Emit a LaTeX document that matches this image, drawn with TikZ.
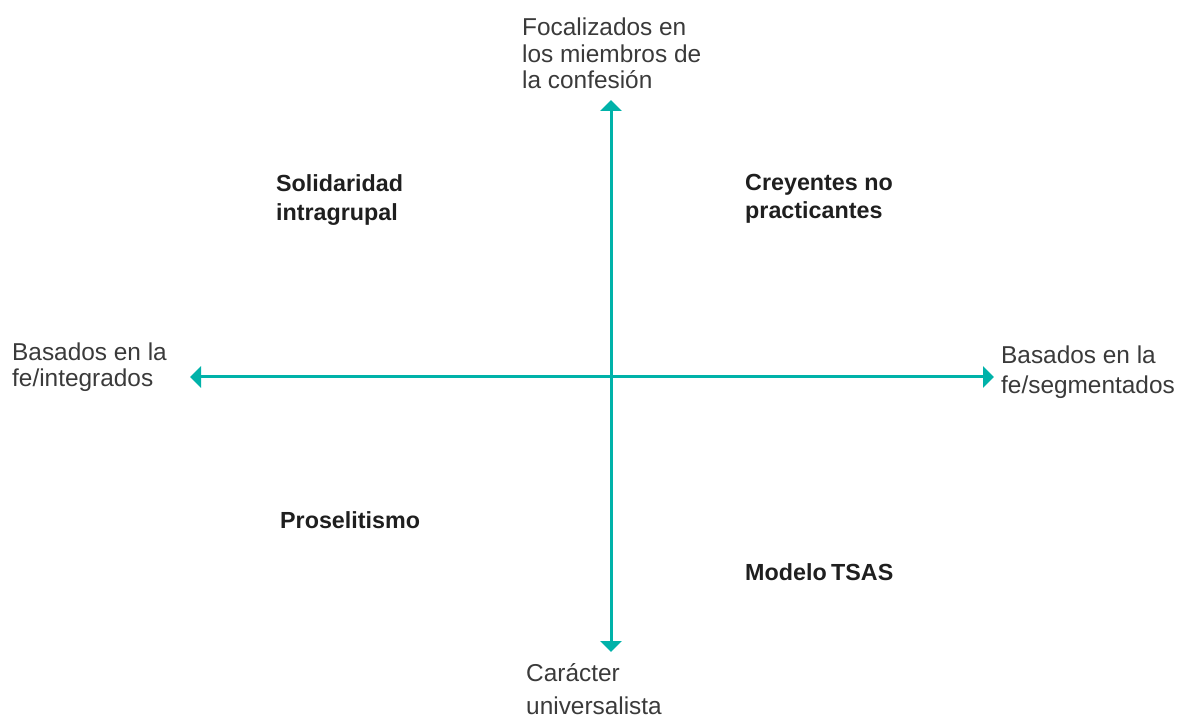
\documentclass[tikz,border=0pt]{standalone}
\usepackage{fontspec}
\setmainfont{Liberation Sans}
\usetikzlibrary{arrows.meta}
\definecolor{teal}{HTML}{00B2A9}
\definecolor{txt}{HTML}{3A3A3A}
\tikzset{
  tip/.tip={Triangle[width=21pt,length=11pt]},
  axis/.style={draw=teal, line width=3pt, tip-tip},
  lbl/.style={text=txt, align=left, inner sep=0pt, anchor=north west},
  quad/.style={text=black!88, align=left, inner sep=0pt, anchor=north west}
}
\newcommand{\lblfont}[1]{\fontsize{24.4}{#1}\selectfont}
\newcommand{\quadfont}[1]{\fontsize{23.3}{#1}\selectfont\bfseries}
\begin{document}
\begin{tikzpicture}[x=1pt,y=-1pt]
\useasboundingbox (0,0) rectangle (1179,719);
\coordinate (L) at (190,377);
\coordinate (R) at (994,377);
\coordinate (T) at (611,100);
\coordinate (B) at (611,652);
\draw[axis] (L) -- (R);
\draw[axis] (T) -- (B);
\node[lbl, font=\lblfont{26.5}] (top) at (522,18) {Focalizados en\\los miembros de\\la confesión};
\node[lbl, font=\lblfont{25.5}] (left) at (12,343) {Basados en la\\fe/integrados};
\node[lbl, font=\lblfont{30}] (right) at (1001,346) {Basados en la\\fe/segmentados};
\node[lbl, font=\lblfont{33}] (bot) at (526,663) {Carácter\\universalista};
\node[quad, font=\quadfont{29.5}] (q1) at (276,174) {Solidaridad\\intragrupal};
\node[quad, font=\quadfont{28}] (q2) at (745,174) {Creyentes no\\practicantes};
\node[quad, font=\quadfont{28}] (q3) at (280,511) {Proselitismo};
\node[quad, font=\quadfont{28}] (q4) at (745,563) {Modelo\hspace{-2pt} TSAS};
\end{tikzpicture}
\end{document}
